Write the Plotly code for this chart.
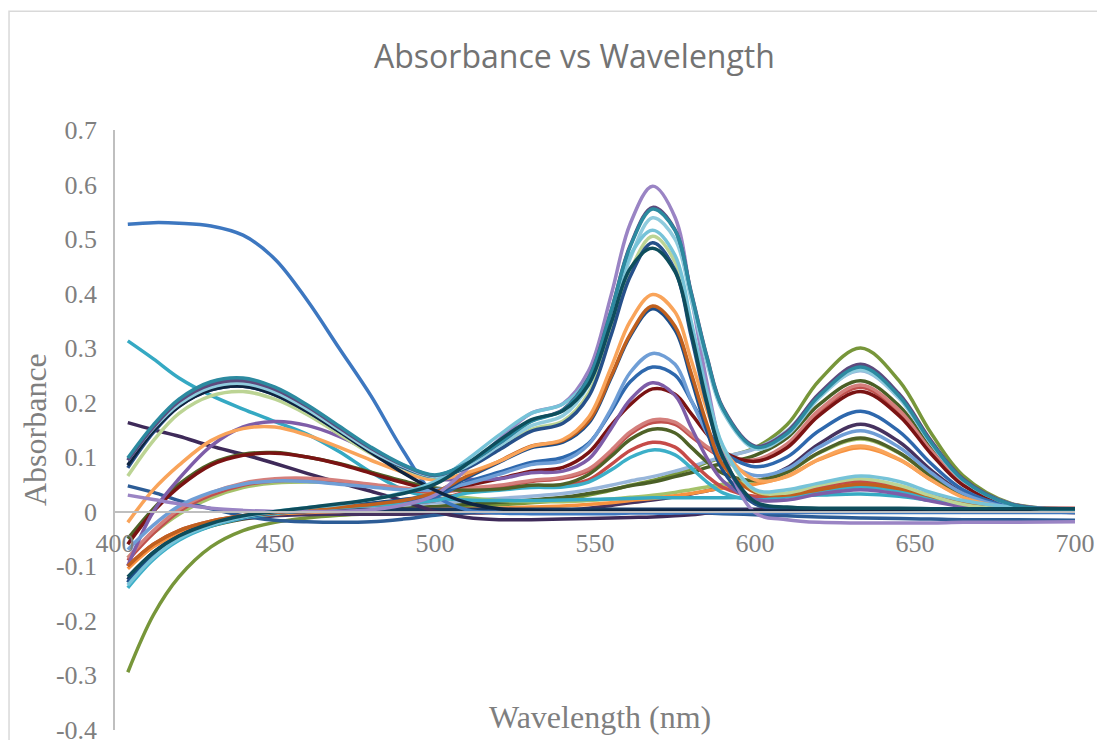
import plotly.graph_objects as go

# Wavelength sample points (nm)
wavelength = [404, 412, 420, 430, 440, 450, 460, 470, 480, 490, 500, 510, 520, 530, 540, 548,
              555, 561, 568, 575, 580, 585, 590, 600, 610, 620, 633, 645, 655, 665, 680, 700]

# Absorbance series
blue_big = [0.527, 0.530, 0.529, 0.524, 0.507, 0.463, 0.388, 0.300, 0.212, 0.112, 0.030, 0.003, -0.003, -0.004, -0.004, -0.004, -0.004, -0.003, -0.003, -0.003, -0.002, -0.002, -0.002, -0.002, -0.002, -0.002, -0.002, -0.002, -0.002, -0.002, -0.002, -0.002]
blue_small = [0.047, 0.035, 0.02, 0.005, -0.008, -0.016, -0.019, -0.02, -0.019, -0.014, -0.007, -0.002, 0.0, 0.001, 0.001, 0.001, 0.0, 0.0, 0.0, -0.001, -0.002, -0.003, -0.004, -0.006, -0.008, -0.01, -0.012, -0.013, -0.014, -0.015, -0.015, -0.016]
cyan_decl = [0.313, 0.28, 0.245, 0.213, 0.188, 0.165, 0.142, 0.11, 0.072, 0.04, 0.025, 0.021, 0.02, 0.02, 0.021, 0.022, 0.023, 0.024, 0.025, 0.025, 0.025, 0.025, 0.025, 0.026, 0.028, 0.03, 0.032, 0.028, 0.02, 0.012, 0.006, 0.004]
dpurple_decl = [0.163, 0.15, 0.138, 0.12, 0.105, 0.088, 0.07, 0.053, 0.037, 0.02, 0.0, -0.011, -0.015, -0.015, -0.014, -0.013, -0.012, -0.011, -0.01, -0.008, -0.006, -0.003, 0.0, 0.003, 0.004, 0.004, 0.005, 0.004, 0.003, 0.002, 0.0, -0.002]
teal = [0.098, 0.159, 0.206, 0.238, 0.245, 0.228, 0.196, 0.157, 0.118, 0.086, 0.067, 0.088, 0.125, 0.165, 0.186, 0.244, 0.367, 0.486, 0.555, 0.516, 0.402, 0.282, 0.188, 0.118, 0.143, 0.212, 0.265, 0.212, 0.127, 0.058, 0.013, 0.004]
dark_purple = [0.094, 0.155, 0.202, 0.233, 0.240, 0.224, 0.193, 0.154, 0.116, 0.085, 0.066, 0.088, 0.125, 0.166, 0.187, 0.245, 0.368, 0.488, 0.558, 0.517, 0.404, 0.284, 0.190, 0.120, 0.146, 0.216, 0.270, 0.216, 0.130, 0.060, 0.014, 0.004]
light_blue = [0.094, 0.153, 0.197, 0.228, 0.235, 0.219, 0.188, 0.150, 0.112, 0.083, 0.064, 0.083, 0.120, 0.157, 0.176, 0.232, 0.351, 0.464, 0.539, 0.50, 0.39, 0.272, 0.183, 0.115, 0.140, 0.208, 0.260, 0.208, 0.125, 0.057, 0.013, 0.004]
light_purple = [0.03, 0.022, 0.014, 0.006, 0.002, 0.0, 0.0, 0.0, 0.003, 0.012, 0.03, 0.078, 0.132, 0.18, 0.198, 0.258, 0.396, 0.528, 0.597, 0.54, 0.396, 0.236, 0.11, -0.002, -0.015, -0.02, -0.021, -0.021, -0.021, -0.02, -0.02, -0.019]
light_cyan = [-0.135, -0.085, -0.05, -0.025, -0.01, 0.0, 0.007, 0.013, 0.022, 0.035, 0.055, 0.095, 0.14, 0.18, 0.197, 0.245, 0.36, 0.47, 0.516, 0.47, 0.35, 0.22, 0.12, 0.04, 0.04, 0.052, 0.065, 0.055, 0.035, 0.02, 0.008, 0.004]
sage = [0.065, 0.13, 0.18, 0.212, 0.22, 0.206, 0.178, 0.142, 0.106, 0.079, 0.063, 0.081, 0.114, 0.15, 0.166, 0.217, 0.331, 0.441, 0.505, 0.458, 0.339, 0.214, 0.118, 0.038, 0.034, 0.048, 0.06, 0.048, 0.029, 0.013, 0.003, 0.001]
navy_mid = [0.08, 0.145, 0.193, 0.223, 0.23, 0.214, 0.184, 0.147, 0.11, 0.081, 0.064, 0.08, 0.113, 0.147, 0.162, 0.211, 0.323, 0.431, 0.493, 0.443, 0.323, 0.196, 0.098, 0.015, 0.004, 0.003, 0.003, 0.003, 0.002, 0.002, 0.002, 0.002]
dark_navy = [0.085, 0.148, 0.193, 0.223, 0.23, 0.214, 0.184, 0.147, 0.108, 0.071, 0.039, 0.016, 0.005, 0.002, 0.001, 0.001, 0.001, 0.001, 0.001, 0.001, 0.001, 0.001, 0.001, 0.001, 0.001, 0.001, 0.001, 0.001, 0.001, 0.001, 0.001, 0.001]
dark_teal = [-0.12, -0.075, -0.045, -0.022, -0.008, 0.0, 0.007, 0.014, 0.022, 0.033, 0.05, 0.087, 0.13, 0.168, 0.185, 0.233, 0.345, 0.446, 0.483, 0.44, 0.33, 0.2, 0.1, 0.018, 0.008, 0.006, 0.006, 0.006, 0.005, 0.005, 0.005, 0.005]
light_orange = [-0.02, 0.04, 0.085, 0.13, 0.152, 0.155, 0.14, 0.118, 0.094, 0.072, 0.058, 0.071, 0.092, 0.119, 0.132, 0.173, 0.264, 0.349, 0.398, 0.366, 0.279, 0.186, 0.115, 0.058, 0.064, 0.096, 0.12, 0.096, 0.058, 0.026, 0.006, 0.002]
brown = [-0.1, -0.06, -0.035, -0.018, -0.008, -0.002, 0.003, 0.008, 0.013, 0.02, 0.035, 0.065, 0.092, 0.12, 0.13, 0.166, 0.248, 0.325, 0.377, 0.34, 0.255, 0.16, 0.085, 0.035, 0.03, 0.04, 0.05, 0.042, 0.028, 0.015, 0.006, 0.003]
navy_372 = [-0.13, -0.08, -0.048, -0.024, -0.01, -0.002, 0.004, 0.009, 0.015, 0.022, 0.032, 0.062, 0.09, 0.117, 0.127, 0.162, 0.245, 0.322, 0.372, 0.333, 0.245, 0.148, 0.075, 0.014, 0.006, 0.005, 0.005, 0.005, 0.005, 0.005, 0.005, 0.005]
light_blue2 = [-0.07, -0.025, 0.01, 0.035, 0.05, 0.056, 0.055, 0.05, 0.045, 0.04, 0.04, 0.051, 0.068, 0.086, 0.093, 0.123, 0.188, 0.255, 0.29, 0.27, 0.205, 0.144, 0.099, 0.066, 0.078, 0.118, 0.148, 0.118, 0.071, 0.033, 0.007, 0.002]
blue_mid = [-0.13, -0.08, -0.048, -0.024, -0.01, -0.002, 0.004, 0.009, 0.014, 0.02, 0.027, 0.054, 0.072, 0.09, 0.099, 0.125, 0.183, 0.238, 0.265, 0.25, 0.204, 0.151, 0.11, 0.082, 0.1, 0.148, 0.184, 0.147, 0.088, 0.04, 0.009, 0.003]
purple = [-0.1, 0.0, 0.06, 0.12, 0.155, 0.165, 0.158, 0.138, 0.11, 0.082, 0.06, 0.059, 0.06, 0.071, 0.074, 0.096, 0.152, 0.205, 0.236, 0.213, 0.155, 0.098, 0.056, 0.022, 0.021, 0.032, 0.04, 0.032, 0.019, 0.009, 0.002, 0.001]
dark_red = [-0.06, 0.0, 0.045, 0.085, 0.103, 0.107, 0.1, 0.087, 0.07, 0.053, 0.04, 0.048, 0.06, 0.074, 0.081, 0.108, 0.158, 0.196, 0.225, 0.215, 0.18, 0.142, 0.11, 0.092, 0.117, 0.176, 0.22, 0.176, 0.106, 0.048, 0.011, 0.003]
dark_olive_a = [-0.05, 0.005, 0.05, 0.088, 0.105, 0.108, 0.1, 0.088, 0.072, 0.056, 0.043, 0.039, 0.041, 0.048, 0.05, 0.068, 0.101, 0.132, 0.151, 0.144, 0.118, 0.091, 0.07, 0.057, 0.072, 0.108, 0.135, 0.108, 0.065, 0.03, 0.007, 0.002]
red = [-0.09, -0.04, 0.0, 0.03, 0.048, 0.056, 0.057, 0.053, 0.047, 0.04, 0.035, 0.041, 0.046, 0.055, 0.061, 0.075, 0.109, 0.142, 0.163, 0.16, 0.138, 0.116, 0.099, 0.093, 0.121, 0.182, 0.228, 0.182, 0.109, 0.05, 0.011, 0.003]
pink = [-0.085, -0.035, 0.004, 0.034, 0.052, 0.06, 0.061, 0.057, 0.05, 0.043, 0.038, 0.043, 0.048, 0.057, 0.063, 0.078, 0.112, 0.146, 0.168, 0.164, 0.142, 0.119, 0.101, 0.095, 0.124, 0.186, 0.232, 0.186, 0.112, 0.052, 0.012, 0.003]
red2 = [-0.1, -0.06, -0.035, -0.018, -0.008, -0.002, 0.003, 0.007, 0.011, 0.015, 0.02, 0.036, 0.042, 0.047, 0.048, 0.058, 0.086, 0.112, 0.127, 0.118, 0.092, 0.065, 0.044, 0.028, 0.032, 0.045, 0.055, 0.045, 0.029, 0.016, 0.008, 0.006]
cyan = [-0.14, -0.088, -0.053, -0.027, -0.012, -0.004, 0.002, 0.007, 0.011, 0.015, 0.02, 0.034, 0.039, 0.044, 0.045, 0.054, 0.076, 0.099, 0.113, 0.104, 0.08, 0.054, 0.034, 0.021, 0.027, 0.037, 0.045, 0.037, 0.024, 0.013, 0.007, 0.005]
green = [-0.295, -0.19, -0.12, -0.065, -0.035, -0.02, -0.012, -0.007, -0.004, -0.002, 0.002, 0.008, 0.012, 0.016, 0.021, 0.03, 0.039, 0.048, 0.057, 0.069, 0.078, 0.09, 0.099, 0.117, 0.159, 0.24, 0.3, 0.24, 0.144, 0.066, 0.015, 0.005]
light_blue_b = [-0.13, -0.08, -0.048, -0.025, -0.012, -0.005, 0.0, 0.004, 0.008, 0.012, 0.016, 0.02, 0.024, 0.028, 0.033, 0.04, 0.048, 0.056, 0.064, 0.074, 0.082, 0.092, 0.1, 0.115, 0.148, 0.212, 0.258, 0.208, 0.125, 0.058, 0.014, 0.005]
dark_olive_b = [-0.13, -0.082, -0.05, -0.027, -0.014, -0.007, -0.003, 0.0, 0.003, 0.006, 0.009, 0.013, 0.017, 0.021, 0.026, 0.033, 0.04, 0.047, 0.054, 0.064, 0.071, 0.081, 0.088, 0.103, 0.135, 0.196, 0.24, 0.194, 0.117, 0.054, 0.013, 0.005]
dark_purple_b = [-0.125, -0.078, -0.047, -0.025, -0.013, -0.008, -0.006, -0.005, -0.005, -0.005, -0.004, -0.003, -0.002, 0.0, 0.002, 0.006, 0.011, 0.016, 0.021, 0.027, 0.032, 0.038, 0.044, 0.055, 0.08, 0.124, 0.16, 0.128, 0.076, 0.034, 0.006, -0.002]
light_green = [-0.085, -0.04, -0.005, 0.025, 0.044, 0.052, 0.054, 0.052, 0.047, 0.04, 0.033, 0.025, 0.02, 0.018, 0.018, 0.02, 0.023, 0.026, 0.03, 0.035, 0.04, 0.045, 0.05, 0.056, 0.072, 0.107, 0.133, 0.107, 0.065, 0.03, 0.008, 0.003]
orange_b = [-0.105, -0.065, -0.04, -0.02, -0.01, -0.005, -0.002, 0.0, 0.002, 0.003, 0.004, 0.005, 0.006, 0.008, 0.01, 0.013, 0.016, 0.02, 0.024, 0.029, 0.033, 0.038, 0.043, 0.05, 0.065, 0.095, 0.117, 0.095, 0.058, 0.028, 0.008, 0.003]
navy_base = [-0.125, -0.075, -0.045, -0.022, -0.01, -0.003, 0.0, 0.002, 0.003, 0.004, 0.004, 0.004, 0.004, 0.004, 0.004, 0.004, 0.004, 0.004, 0.004, 0.004, 0.004, 0.004, 0.004, 0.004, 0.004, 0.004, 0.004, 0.004, 0.004, 0.004, 0.004, 0.003]

series = [
    (green, "#77963A"), (dark_olive_b, "#4A5F26"), (light_blue_b, "#98B6DA"),
    (dark_purple_b, "#46325F"), (light_green, "#A5C26A"), (orange_b, "#F7923F"),
    (navy_base, "#17375E"), (blue_small, "#2C5C96"), (dpurple_decl, "#3E2A59"),
    (cyan_decl, "#35A9C3"), (blue_big, "#3D77C0"), (red2, "#C64B48"), (cyan, "#3CAFC8"),
    (red, "#C0504D"), (pink, "#D47F7C"), (dark_olive_a, "#4F6228"), (dark_red, "#7A1313"),
    (purple, "#7E5DA8"), (blue_mid, "#2E68AD"), (light_blue2, "#6F9ED6"),
    (navy_372, "#1D4E89"), (brown, "#C0601E"), (light_orange, "#F9A45A"),
    (light_purple, "#9A84C4"), (sage, "#BCD494"), (navy_mid, "#26508A"),
    (dark_navy, "#0F2440"), (light_blue, "#8FCBDD"), (light_cyan, "#76C3D8"),
    (dark_purple, "#5D4A7D"), (teal, "#2C8AA0"), (dark_teal, "#0E4D5C"),
]

x_ticks = [400, 450, 500, 550, 600, 650, 700]
y_ticks = [-0.4, -0.3, -0.2, -0.1, 0, 0.1, 0.2, 0.3, 0.4, 0.5, 0.6, 0.7]
y_tick_text = ["-0.4", "-0.3", "-0.2", "-0.1", "0", "0.1", "0.2", "0.3", "0.4", "0.5", "0.6", "0.7"]

fig = go.Figure()
for vals, col in series:
    fig.add_trace(go.Scatter(x=wavelength, y=vals, mode="lines",
                             line=dict(color=col, width=3.5, shape="spline", smoothing=1.0),
                             hoverinfo="skip", showlegend=False))

axis_gray = "#BFBFBF"
tick_font = dict(family="Liberation Serif", size=26, color="#7F7F7F")

fig.update_layout(
    width=1097, height=740,
    margin=dict(l=115, r=22, t=130, b=10, autoexpand=False),
    paper_bgcolor="white", plot_bgcolor="white",
    showlegend=False, hovermode=False,
    xaxis=dict(range=[400, 700], tickvals=x_ticks, ticktext=[str(v) for v in x_ticks],
               showgrid=False, zeroline=False, showline=True, linecolor=axis_gray, linewidth=1.5,
               anchor="free", position=0.4 / 1.101, ticks="outside", ticklen=8,
               tickcolor="rgba(0,0,0,0)", tickfont=tick_font, ticklabeloverflow="allow",
               automargin=False),
    yaxis=dict(range=[-0.401, 0.7], tickvals=y_ticks, ticktext=y_tick_text,
               showgrid=False, zeroline=False, showline=True, linecolor=axis_gray, linewidth=1.5,
               ticks="outside", ticklen=11, tickcolor="rgba(0,0,0,0)", tickfont=tick_font,
               ticklabeloverflow="allow", automargin=False),
    annotations=[
        dict(text="Absorbance vs Wavelength", xref="paper", yref="paper", x=0.479, y=1.125,
             showarrow=False, font=dict(family="Open Sans", size=32, color="#737373"),
             xanchor="center", yanchor="middle"),
        dict(text="Absorbance", xref="paper", yref="paper", x=-0.0833, y=0.5, textangle=-90,
             showarrow=False, font=dict(family="Liberation Serif", size=32, color="#7F7F7F"),
             xanchor="center", yanchor="middle"),
        dict(text="Wavelength (nm)", xref="paper", yref="paper", x=0.505, y=0.022,
             showarrow=False, font=dict(family="Liberation Serif", size=32, color="#7F7F7F"),
             xanchor="center", yanchor="middle"),
    ],
    shapes=[dict(type="rect", xref="paper", yref="paper", x0=-0.1104, y0=-0.2, x1=1.2, y1=1.198,
                 line=dict(color="#D9D9D9", width=1.5), fillcolor="rgba(0,0,0,0)", layer="below")],
)

fig.write_html("out.html")
